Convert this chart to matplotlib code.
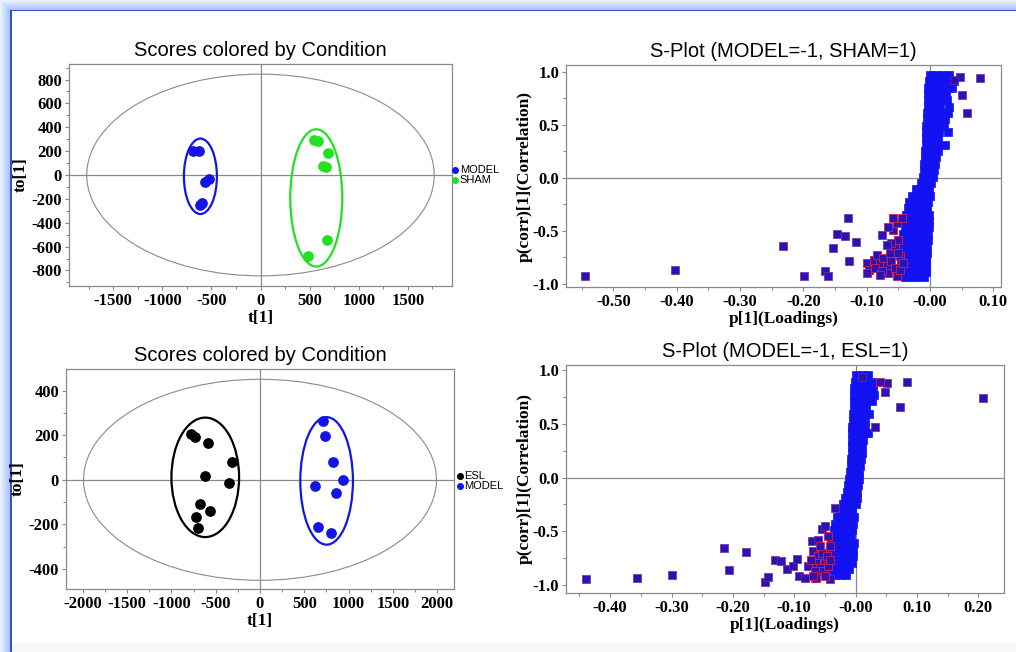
import numpy as np
import matplotlib
matplotlib.use("Agg")
import matplotlib.pyplot as plt
from matplotlib.patches import Ellipse, Rectangle
from matplotlib.ticker import FixedLocator, MultipleLocator

plt.rcParams['axes.unicode_minus'] = False

# ---------------- datos: scores OPLS-DA ----------------
# MODEL vs SHAM
a_model_t = [-690, -625, -525, -565, -600, -620]
a_model_to = [205, 205, -30, -55, -235, -255]
a_sham_t = [540, 590, 690, 632, 667, 673, 486]
a_sham_to = [296, 282, 185, 73, 64, -548, -677]

# ESL vs MODEL
b_esl_t = [-774, -737, -586, -316, -624, -353, -673, -560, -726, -699]
b_esl_to = [206, 191, 164, 78, 15, -15, -108, -142, -167, -217]
b_model_t = [711, 729, 823, 936, 617, 853, 654, 805]
b_model_to = [262, 197, 79, 0, -27, -60, -212, -239]

# elipses: (centro x, centro y, semieje x, semieje y)
a_hotelling = (0, 0, 1769, 845)
a_ell_model = (-612, -11, 168, 316)
a_ell_sham = (568, -192, 265, 575)
b_hotelling = (0, 0, 1992, 451)
b_ell_esl = (-618, 11, 382, 268)
b_ell_model = (752, -5, 297, 286)

# ---------------- datos: S-plot MODEL vs SHAM ----------------
sa_band_y = [0.97, 0.91, 0.85, 0.79, 0.73, 0.67, 0.61, 0.55, 0.49, 0.43, 0.37,
             0.31, 0.25, 0.19, 0.13, 0.07, 0.01, -0.05, -0.11, -0.17, -0.23,
             -0.29, -0.35, -0.41, -0.47, -0.53, -0.59, -0.65, -0.71, -0.77,
             -0.83, -0.89, -0.94]
sa_band_x = [
    [0.000, 0.010, 0.020, 0.030],
    [-0.002, 0.008, 0.018, 0.028, 0.038],
    [-0.003, 0.007, 0.017, 0.027, 0.035],
    [-0.003, 0.007, 0.017, 0.025],
    [-0.004, 0.006, 0.016, 0.026],
    [-0.004, 0.006, 0.016, 0.030],
    [-0.005, 0.005, 0.015, 0.028],
    [-0.005, 0.005, 0.015, 0.024],
    [-0.006, 0.004, 0.014, 0.022],
    [-0.006, 0.004, 0.014, 0.028],
    [-0.007, 0.003, 0.013],
    [-0.007, 0.003, 0.013, 0.024],
    [-0.008, 0.002, 0.012],
    [-0.008, 0.002, 0.010],
    [-0.009, 0.001, 0.008],
    [-0.010, 0.000, 0.006],
    [-0.011, -0.002, 0.004],
    [-0.015, -0.005, 0.002],
    [-0.022, -0.012, -0.002],
    [-0.028, -0.018, -0.008, 0.000],
    [-0.033, -0.023, -0.013, -0.003],
    [-0.035, -0.025, -0.015, -0.005],
    [-0.038, -0.028, -0.018, -0.008, -0.001],
    [-0.040, -0.030, -0.020, -0.010, -0.002],
    [-0.040, -0.030, -0.020, -0.010, -0.002],
    [-0.042, -0.032, -0.022, -0.012, -0.003],
    [-0.044, -0.034, -0.024, -0.014, -0.004],
    [-0.045, -0.035, -0.025, -0.015, -0.005],
    [-0.045, -0.035, -0.025, -0.015, -0.005],
    [-0.046, -0.036, -0.026, -0.016, -0.006],
    [-0.045, -0.035, -0.025, -0.015, -0.006],
    [-0.044, -0.034, -0.024, -0.014, -0.006],
    [-0.040, -0.030, -0.020, -0.010],
]
# variables sueltas
sa_out_x = [-0.545, -0.403, -0.232, -0.199, -0.166, -0.161, -0.153, -0.147,
            -0.134, -0.130, -0.128, -0.117, -0.076, 0.047, 0.079, 0.050, 0.059,
            0.037]
sa_out_y = [-0.93, -0.876, -0.65, -0.926, -0.885, -0.93, -0.666, -0.534,
            -0.556, -0.383, -0.785, -0.609, -0.546, 0.951, 0.936, 0.779, 0.606,
            0.92]
# grupo con borde rojo
sa_red_x = [-0.100, -0.097, -0.089, -0.084, -0.079, -0.074, -0.068, -0.066,
            -0.061, -0.055, -0.053, -0.047, -0.047, -0.087, -0.076, -0.063,
            -0.055, -0.050, -0.058, -0.053, -0.058, -0.045, -0.066, -0.061,
            -0.100, -0.079, -0.068, -0.042, -0.050]
sa_red_y = [-0.807, -0.870, -0.776, -0.728, -0.807, -0.760, -0.838, -0.901,
            -0.791, -0.854, -0.933, -0.744, -0.870, -0.854, -0.885, -0.713,
            -0.650, -0.587, -0.493, -0.430, -0.383, -0.383, -0.462, -0.619,
            -0.901, -0.917, -0.634, -0.807, -0.713]

# ---------------- datos: S-plot MODEL vs ESL ----------------
sb_band_y = [0.95, 0.89, 0.83, 0.77, 0.71, 0.65, 0.59, 0.53, 0.47, 0.41, 0.35,
             0.29, 0.23, 0.17, 0.11, 0.05, -0.01, -0.07, -0.13, -0.19, -0.25,
             -0.31, -0.37, -0.43, -0.49, -0.55, -0.61, -0.67, -0.73, -0.79,
             -0.85, -0.91]
sb_band_x = [
    [0.000, 0.010, 0.020],
    [-0.001, 0.009, 0.019, 0.029],
    [-0.002, 0.008, 0.018, 0.028],
    [-0.002, 0.008, 0.018, 0.030],
    [-0.003, 0.007, 0.017, 0.027],
    [-0.003, 0.007, 0.017],
    [-0.004, 0.006, 0.016, 0.022],
    [-0.004, 0.006, 0.016],
    [-0.005, 0.005, 0.015],
    [-0.005, 0.005, 0.015, 0.020],
    [-0.006, 0.004, 0.012],
    [-0.006, 0.004, 0.011],
    [-0.006, 0.003, 0.010],
    [-0.007, 0.002, 0.009],
    [-0.008, 0.001, 0.008],
    [-0.009, 0.000, 0.006],
    [-0.010, -0.001, 0.005],
    [-0.012, -0.003, 0.004],
    [-0.014, -0.005, 0.003],
    [-0.017, -0.007, 0.002],
    [-0.020, -0.010, 0.000],
    [-0.025, -0.015, -0.005],
    [-0.030, -0.020, -0.010, -0.002],
    [-0.033, -0.023, -0.013, -0.004],
    [-0.035, -0.025, -0.015, -0.005],
    [-0.038, -0.028, -0.018, -0.008],
    [-0.040, -0.030, -0.020, -0.010, -0.003],
    [-0.042, -0.032, -0.022, -0.012, -0.004],
    [-0.042, -0.032, -0.022, -0.012, -0.004],
    [-0.043, -0.033, -0.023, -0.013, -0.005],
    [-0.040, -0.030, -0.020, -0.010],
    [-0.035, -0.025, -0.015],
]
sb_out_x = [-0.440, -0.357, -0.299, -0.215, -0.207, -0.179, -0.147, -0.142,
            -0.132, -0.121, -0.111, -0.102, -0.095, -0.092, -0.083, -0.077,
            -0.071, -0.066, -0.061, -0.055, -0.050, -0.042, -0.034,
            0.208, 0.084, 0.072, 0.048, 0.032, 0.010]
sb_out_y = [-0.943, -0.937, -0.909, -0.658, -0.856, -0.692, -0.974, -0.924,
            -0.770, -0.773, -0.850, -0.819, -0.754, -0.918, -0.934, -0.819,
            -0.594, -0.934, -0.578, -0.479, -0.454, -0.943, -0.284,
            0.742, 0.884, 0.652, 0.791, 0.473, 0.937]
sb_red_x = [0.051, 0.040,
            -0.069, -0.061, -0.055, -0.050, -0.064, -0.058, -0.053, -0.066,
            -0.045, -0.055, -0.047, -0.072, -0.064, -0.050, -0.042, -0.069,
            -0.058, -0.042, -0.045]
sb_red_y = [0.875, 0.890,
            -0.686, -0.733, -0.764, -0.794, -0.794, -0.841, -0.872, -0.872,
            -0.825, -0.702, -0.733, -0.764, -0.934, -0.918, -0.764, -0.918,
            -0.640, -0.640, -0.547]

AZUL = '#1414e6'
AZUL_S = '#1212f2'
MARINO = '#2a12b4'
VERDE = '#22e022'
GRIS = '#8a8a8a'
SERIF = 'Liberation Serif'
SANS = 'Liberation Sans'


def estilo_ejes(ax, xmaj, xmin, ymaj, ymin, xlabs, ylabs):
    for s in ax.spines.values():
        s.set_color(GRIS)
        s.set_linewidth(0.9)
    ax.xaxis.set_major_locator(FixedLocator(xmaj))
    ax.yaxis.set_major_locator(FixedLocator(ymaj))
    ax.xaxis.set_minor_locator(MultipleLocator(xmin))
    ax.yaxis.set_minor_locator(MultipleLocator(ymin))
    ax.set_xticklabels(xlabs)
    ax.set_yticklabels(ylabs)
    ax.tick_params(which='both', direction='out', color=GRIS, width=0.8,
                   pad=2)
    ax.tick_params(which='major', length=3)
    ax.tick_params(which='minor', length=2)
    for lab in ax.get_xticklabels() + ax.get_yticklabels():
        lab.set_fontfamily(SERIF)
        lab.set_fontweight('bold')
        lab.set_fontsize(12)
    ax.axhline(0, color=GRIS, lw=0.9, zorder=1)
    ax.axvline(0, color=GRIS, lw=0.9, zorder=1)


def elipse(ax, e, color, lw):
    ax.add_patch(Ellipse((e[0], e[1]), 2 * e[2], 2 * e[3], fill=False,
                         edgecolor=color, lw=lw, zorder=2))


def etiquetas(ax, titulo, xl, yl, ypad):
    ax.set_title(titulo, fontfamily=SANS, fontsize=14.5, pad=6)
    ax.set_xlabel(xl, fontfamily=SERIF, fontweight='bold', fontsize=12.5,
                  labelpad=1)
    ax.set_ylabel(yl, fontfamily=SERIF, fontweight='bold', fontsize=12.5,
                  labelpad=ypad)


def aplanar(ys, xs):
    px, py = [], []
    for y, fila in zip(ys, xs):
        for x in fila:
            px.append(x)
            py.append(y)
    return px, py


def splot(ax, band_y, band_x, out_x, out_y, red_x, red_y):
    bx, by = aplanar(band_y, band_x)
    ax.scatter(bx, by, s=26, marker='s', color=AZUL_S, edgecolor=AZUL_S,
               linewidth=0.5, zorder=3)
    ax.scatter(out_x, out_y, s=26, marker='s', color=MARINO,
               edgecolor='#7a2a9a', linewidth=0.5, zorder=4)
    ax.scatter(red_x, red_y, s=26, marker='s', color=MARINO,
               edgecolor='#d02050', linewidth=0.6, zorder=4)


fig = plt.figure(figsize=(10.16, 6.52), dpi=100)
fig.patch.set_facecolor('white')

# ---- marco azul de la figura ----
fondo = fig.add_axes([0, 0, 1, 1], zorder=-5)
fondo.set_xlim(0, 1016)
fondo.set_ylim(652, 0)
fondo.axis('off')
grad = np.linspace(0, 1, 10)
for i, g in enumerate(grad):
    c = (0.92 - 0.25 * g, 0.95 - 0.18 * g, 1.0)
    fondo.add_patch(Rectangle((i, i), 1016, 1, color=c, lw=0))
    fondo.add_patch(Rectangle((i, i), 1, 652, color=c, lw=0))
fondo.add_patch(Rectangle((10, 9.5), 1006, 1.8, color='#3a4fc4', lw=0))
fondo.add_patch(Rectangle((10, 9.5), 1.8, 642, color='#3a4fc4', lw=0))
fondo.add_patch(Rectangle((12, 643), 1004, 9, color='#f6f7f9', lw=0))

leg_kw = dict(loc='center left', frameon=False,
              prop={'family': SANS, 'size': 8}, handlelength=0.4,
              handletextpad=0.2, borderpad=0, labelspacing=0.0,
              markerscale=0.6)

# ---- arriba izquierda: scores MODEL / SHAM ----
ax1 = fig.add_axes([69 / 1016, 1 - 286 / 652, 383 / 1016, 222 / 652])
ax1.set_xlim(-1950, 1950)
ax1.set_ylim(-930, 930)
elipse(ax1, a_hotelling, GRIS, 0.8)
elipse(ax1, a_ell_model, AZUL, 1.6)
elipse(ax1, a_ell_sham, VERDE, 1.6)
ax1.scatter(a_model_t, a_model_to, s=45, color=AZUL, zorder=3, label='MODEL')
ax1.scatter(a_sham_t, a_sham_to, s=45, color=VERDE, zorder=3, label='SHAM')
ticks = [-1500, -1000, -500, 0, 500, 1000, 1500]
yt = [-800, -600, -400, -200, 0, 200, 400, 600, 800]
estilo_ejes(ax1, ticks, 250, yt, 100, [str(t) for t in ticks],
            [str(t) for t in yt])
etiquetas(ax1, 'Scores colored by Condition', 't[1]', 'to[1]', 2)
ax1.legend(bbox_to_anchor=(1.0, 0.5), borderaxespad=0.1, **leg_kw)

# ---- abajo izquierda: scores ESL / MODEL ----
ax3 = fig.add_axes([66 / 1016, 1 - 589 / 652, 388 / 1016, 220 / 652])
ax3.set_xlim(-2190, 2190)
ax3.set_ylim(-490, 497)
elipse(ax3, b_hotelling, GRIS, 0.8)
elipse(ax3, b_ell_esl, 'black', 1.6)
elipse(ax3, b_ell_model, AZUL, 1.6)
ax3.scatter(b_esl_t, b_esl_to, s=45, color='black', zorder=3, label='ESL')
ax3.scatter(b_model_t, b_model_to, s=45, color=AZUL, zorder=3, label='MODEL')
ticks = [-2000, -1500, -1000, -500, 0, 500, 1000, 1500, 2000]
yt = [-400, -200, 0, 200, 400]
estilo_ejes(ax3, ticks, 250, yt, 100, [str(t) for t in ticks],
            [str(t) for t in yt])
etiquetas(ax3, 'Scores colored by Condition', 't[1]', 'to[1]', 2)
ax3.legend(bbox_to_anchor=(1.0, 0.49), borderaxespad=0.3, **leg_kw)

# ---- arriba derecha: S-plot MODEL / SHAM ----
ax2 = fig.add_axes([566 / 1016, 1 - 287 / 652, 435 / 1016, 222 / 652])
ax2.set_xlim(-0.575, 0.112)
ax2.set_ylim(-1.033, 1.063)
splot(ax2, sa_band_y, sa_band_x, sa_out_x, sa_out_y, sa_red_x, sa_red_y)
xt = [-0.5, -0.4, -0.3, -0.2, -0.1, 0.0, 0.1]
xl = ['-0.50', '-0.40', '-0.30', '-0.20', '-0.10', '-0.00', '0.10']
yt = [-1.0, -0.5, 0.0, 0.5, 1.0]
yl = ['-1.0', '-0.5', '0.0', '0.5', '1.0']
estilo_ejes(ax2, xt, 0.05, yt, 0.25, xl, yl)
etiquetas(ax2, 'S-Plot (MODEL=-1, SHAM=1)', 'p[1](Loadings)',
          'p(corr)[1](Correlation)', 0)

# ---- abajo derecha: S-plot MODEL / ESL ----
ax4 = fig.add_axes([566 / 1016, 1 - 593 / 652, 438 / 1016, 228 / 652])
ax4.set_xlim(-0.472, 0.242)
ax4.set_ylim(-1.073, 1.046)
splot(ax4, sb_band_y, sb_band_x, sb_out_x, sb_out_y, sb_red_x, sb_red_y)
xt = [-0.4, -0.3, -0.2, -0.1, 0.0, 0.1, 0.2]
xl = ['-0.40', '-0.30', '-0.20', '-0.10', '-0.00', '0.10', '0.20']
estilo_ejes(ax4, xt, 0.05, yt, 0.25, xl, yl)
etiquetas(ax4, 'S-Plot (MODEL=-1, ESL=1)', 'p[1](Loadings)',
          'p(corr)[1](Correlation)', 0)

fig.savefig('out.png', dpi=100)
